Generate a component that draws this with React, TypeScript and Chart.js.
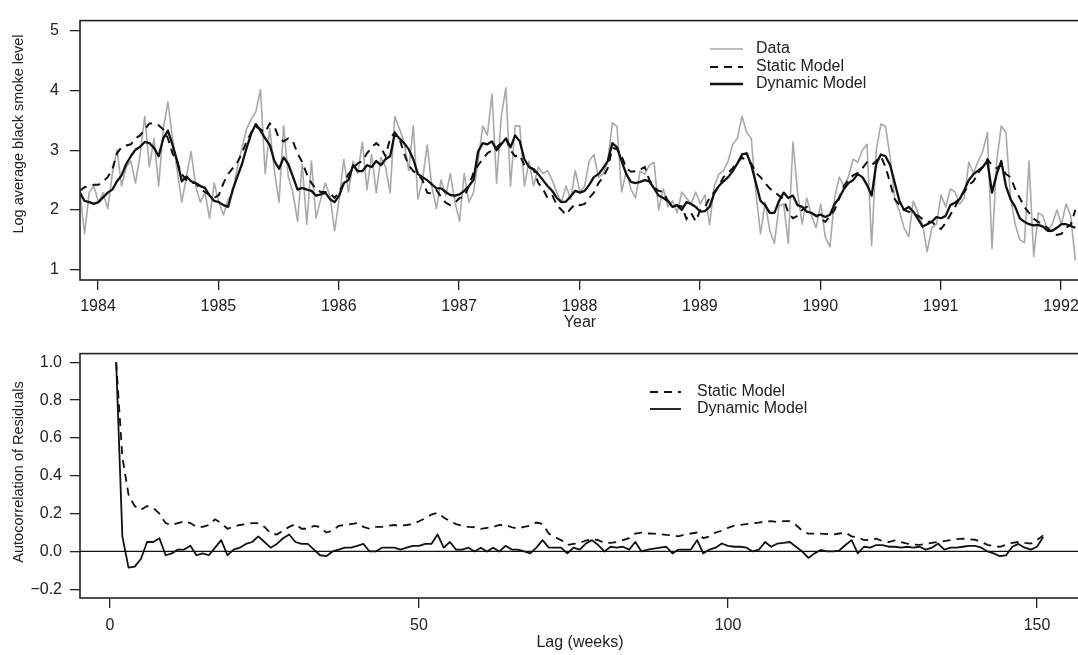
import { useEffect, useRef } from "react";
import { Chart, registerables } from "chart.js";

Chart.register(...registerables);

const FONT = "'Liberation Sans', Arial, Helvetica, sans-serif";

// ---------- Top panel: log black smoke series (biweekly samples) ----------
const START_YEAR = 1983.85;
const SAMPLES_PER_YEAR = 26;
const YEAR_TICKS = [1984, 1985, 1986, 1987, 1988, 1989, 1990, 1991, 1992];
const SMOKE_Y_TICKS = [1, 2, 3, 4, 5];

const SMOKE_DATA = [
  2.29, 1.6, 2.29, 2.4,
  2.13, 2.29, 2.02, 2.61, 3.01, 2.4, 2.72, 2.82, 2.45, 2.93, 3.57, 2.72, 3.2, 2.4, 3.36, 3.81, 3.2, 2.66, 2.13, 2.56, 2.98, 2.4, 2.13, 2.29, 1.86, 2.45,
  2.13, 1.92, 2.18, 2.29, 2.72, 3.04, 3.36, 3.52, 3.65, 4.02, 2.61, 3.36, 2.66, 2.13, 3.41, 2.56, 2.29, 1.81, 2.77, 1.76, 2.82, 1.86, 2.18, 2.45, 2.24, 1.65,
  2.18, 2.85, 2.3, 2.82, 2.61, 3.14, 2.34, 2.93, 2.29, 2.88, 2.72, 2.29, 3.57, 3.36, 3.14, 2.66, 3.41, 2.18, 2.5, 3.09, 2.4, 2.02, 2.5, 2.24, 2.61, 2.13,
  1.81, 2.61, 2.13, 2.29, 2.82, 3.41, 3.25, 3.94, 2.45, 3.57, 4.05, 2.4, 3.41, 3.41, 2.4, 2.82, 2.4, 2.72, 2.61, 2.66, 2.5, 2.29, 2.13, 2.4, 2.18, 2.66,
  2.3, 2.4, 2.82, 2.93, 2.55, 2.6, 2.82, 3.46, 3.4, 2.3, 2.65, 2.35, 2.2, 2.65, 2.6, 2.75, 2.8, 2.0, 2.35, 2.05, 2.15, 1.95, 2.3, 2.2, 2.1, 2.3,
  2.1, 2.25, 1.75, 2.4, 2.6, 2.66, 2.82, 3.1, 3.2, 3.57, 3.3, 3.2, 2.29, 1.6, 2.13, 1.65, 1.44, 2.07, 2.1, 1.44, 3.14, 2.3, 1.76, 2.2, 1.9, 1.7,
  2.1, 1.54, 1.38, 2.2, 2.55, 2.4, 2.56, 2.85, 2.8, 3.0, 3.1, 1.4, 3.0, 3.44, 3.4, 2.88, 2.18, 1.98, 1.7, 1.55, 2.15, 1.95, 1.75, 1.3, 1.7, 1.76,
  2.25, 2.05, 2.35, 2.3, 2.1, 2.2, 2.8, 2.62, 2.82, 2.98, 3.3, 1.35, 2.8, 3.41, 3.3, 2.2, 1.76, 1.5, 1.45, 2.82, 1.22, 1.95, 1.9, 1.65, 1.76, 2.0,
  1.76, 2.1, 1.9, 1.15,
];

const SMOKE_STATIC = [
  2.32, 2.38, 2.4, 2.42,
  2.42, 2.48, 2.55, 2.68, 2.95, 3.05, 3.08, 3.1, 3.2, 3.25, 3.35, 3.45, 3.45, 3.42, 3.35, 3.2, 2.95, 2.8, 2.6, 2.5, 2.45, 2.45, 2.35, 2.3, 2.25, 2.2,
  2.25, 2.45, 2.6, 2.7, 2.8, 2.95, 3.15, 3.3, 3.4, 3.35, 3.3, 3.45, 3.4, 3.2, 3.15, 3.2, 3.15, 2.95, 2.8, 2.6, 2.45, 2.35, 2.3, 2.3, 2.28, 2.2,
  2.3, 2.45, 2.6, 2.7, 2.78, 2.82, 2.95, 3.05, 3.12, 3.05, 2.9, 3.2, 3.3, 3.2, 2.95, 2.75, 2.65, 2.6, 2.5, 2.29, 2.27, 2.33, 2.22, 2.12, 2.08, 2.12,
  2.2, 2.22, 2.4, 2.62, 2.75, 2.85, 2.95, 3.0, 3.05, 3.12, 3.2, 3.0, 2.9, 2.92, 2.75, 2.72, 2.68, 2.45, 2.35, 2.2, 2.25, 2.08, 2.0, 1.92, 2.02, 2.1,
  2.08, 2.1, 2.2, 2.29, 2.45, 2.55, 2.7, 3.04, 3.02, 2.9, 2.7, 2.64, 2.65, 2.68, 2.72, 2.5, 2.38, 2.32, 2.3, 2.15, 2.1, 2.07, 2.06, 1.85, 1.95, 1.81,
  2.0, 2.05, 2.2, 2.3, 2.4, 2.55, 2.62, 2.7, 2.8, 2.88, 2.82, 2.78, 2.62, 2.55, 2.45, 2.36, 2.3, 2.24, 2.18, 1.95, 1.86, 1.9, 2.0, 2.05, 1.95, 1.9,
  1.85, 1.8, 1.9, 2.0, 2.2, 2.4, 2.5, 2.58, 2.62, 2.7, 2.8, 2.75, 2.82, 2.9, 2.72, 2.45, 2.18, 2.08, 2.0, 1.97, 1.95, 1.9, 1.85, 1.8, 1.8, 1.72,
  1.68, 1.78, 1.92, 2.05, 2.2, 2.3, 2.42, 2.48, 2.62, 2.72, 2.85, 2.75, 2.7, 2.75, 2.6, 2.55, 2.35, 2.2, 2.05, 1.95, 1.85, 1.8, 1.75, 1.7, 1.6, 1.58,
  1.6, 1.7, 1.75, 2.0,
];

const SMOKE_DYNAMIC = [
  2.29, 2.15, 2.13, 2.1,
  2.13, 2.21, 2.29, 2.34, 2.48, 2.58, 2.77, 2.9, 3.01, 3.06, 3.14, 3.12, 3.04, 2.9, 3.2, 3.33, 3.09, 2.82, 2.48, 2.56, 2.48, 2.45, 2.4, 2.37, 2.24, 2.15,
  2.13, 2.08, 2.05, 2.34, 2.56, 2.77, 3.04, 3.28, 3.44, 3.33, 3.2, 3.09, 2.82, 2.69, 2.88, 2.77, 2.56, 2.34, 2.37, 2.34, 2.32, 2.24, 2.26, 2.29, 2.18, 2.13,
  2.24, 2.45, 2.5, 2.75, 2.65, 2.65, 2.75, 2.72, 2.82, 2.75, 2.85, 2.9, 3.28, 3.2, 3.12, 3.02, 2.85, 2.6, 2.55, 2.5, 2.43, 2.36, 2.36, 2.3, 2.25, 2.24,
  2.26, 2.32, 2.4, 2.5, 2.98, 3.12, 3.1, 3.15, 3.0, 3.1, 3.2, 3.05, 3.25, 3.15, 2.85, 2.72, 2.68, 2.6, 2.5, 2.4, 2.32, 2.2, 2.13, 2.14, 2.23, 2.32,
  2.29, 2.32, 2.42, 2.55, 2.6, 2.7, 2.82, 3.12, 3.05, 2.82, 2.6, 2.47, 2.45, 2.47, 2.5, 2.48, 2.36, 2.24, 2.2, 2.15, 2.05, 2.08, 2.0, 2.13, 2.1, 2.05,
  1.97, 1.98, 2.05, 2.28, 2.4, 2.48, 2.55, 2.65, 2.78, 2.93, 2.95, 2.75, 2.45, 2.15, 2.08, 1.95, 1.95, 2.15, 2.29, 2.2, 2.24, 2.08, 2.05, 1.97, 1.95, 1.9,
  1.92, 1.88, 1.92, 2.1, 2.2, 2.35, 2.45, 2.5, 2.6, 2.55, 2.42, 2.24, 2.77, 2.93, 2.9, 2.75, 2.45, 2.15, 2.0, 2.05, 1.97, 1.85, 1.72, 1.76, 1.8, 1.88,
  1.86, 1.9, 2.08, 2.12, 2.18, 2.33, 2.5, 2.6, 2.66, 2.72, 2.82, 2.29, 2.6, 2.82, 2.4, 2.18, 2.05, 1.86, 1.8, 1.76, 1.74, 1.75, 1.72, 1.65, 1.65, 1.7,
  1.76, 1.76, 1.73, 1.7,
];

// ---------- Bottom panel: autocorrelation of residuals (lags 1..151) ----------
const FIRST_LAG = 1;
const LAG_TICKS = [0, 50, 100, 150];
const ACF_Y_TICKS = [-0.2, 0, 0.2, 0.4, 0.6, 0.8, 1.0];
const ZERO_LINE = 0;

const ACF_STATIC = [
  1.0, 0.5, 0.3, 0.24, 0.22, 0.24, 0.23, 0.2, 0.15, 0.14,
  0.15, 0.16, 0.15, 0.13, 0.13, 0.14, 0.17, 0.15, 0.12, 0.13,
  0.14, 0.145, 0.15, 0.15, 0.13, 0.095, 0.09, 0.11, 0.13, 0.145,
  0.12, 0.12, 0.135, 0.13, 0.1, 0.11, 0.135, 0.14, 0.145, 0.15,
  0.13, 0.12, 0.13, 0.13, 0.136, 0.14, 0.136, 0.14, 0.145, 0.16,
  0.175, 0.195, 0.205, 0.18, 0.16, 0.145, 0.136, 0.13, 0.128, 0.12,
  0.125, 0.13, 0.14, 0.14, 0.128, 0.12, 0.13, 0.136, 0.153, 0.145,
  0.095, 0.075, 0.06, 0.035, 0.04, 0.045, 0.058, 0.065, 0.06, 0.045,
  0.045, 0.05, 0.06, 0.07, 0.095, 0.1, 0.095, 0.094, 0.092, 0.088,
  0.085, 0.08, 0.09, 0.095, 0.1, 0.07, 0.08, 0.1, 0.11, 0.125,
  0.136, 0.14, 0.145, 0.148, 0.153, 0.158, 0.16, 0.155, 0.16, 0.16,
  0.14, 0.11, 0.094, 0.094, 0.094, 0.092, 0.09, 0.095, 0.1, 0.08,
  0.075, 0.06, 0.062, 0.068, 0.055, 0.05, 0.058, 0.05, 0.042, 0.036,
  0.035, 0.04, 0.045, 0.05, 0.055, 0.06, 0.065, 0.068, 0.065, 0.062,
  0.05, 0.035, 0.028, 0.025, 0.035, 0.045, 0.05, 0.045, 0.042, 0.06,
  0.085,
];

const ACF_DYNAMIC = [
  1.0, 0.08, -0.085, -0.08, -0.04, 0.05, 0.05, 0.07, -0.02, -0.01,
  0.01, 0.01, 0.03, -0.02, -0.01, -0.02, 0.02, 0.06, -0.02, 0.01,
  0.02, 0.04, 0.05, 0.08, 0.05, 0.02, 0.04, 0.07, 0.09, 0.05,
  0.04, 0.04, 0.01, -0.02, -0.025, 0.0, 0.01, 0.02, 0.02, 0.03,
  0.04, 0.0, 0.0, 0.02, 0.02, 0.02, 0.01, 0.02, 0.03, 0.03,
  0.04, 0.04, 0.09, 0.02, 0.05, 0.01, 0.01, 0.02, 0.0, 0.02,
  0.0, 0.02, 0.0, 0.03, 0.01, 0.01, 0.0, -0.01, 0.02, 0.06,
  0.02, 0.02, 0.02, -0.01, 0.02, 0.01, 0.042, 0.06, 0.034, 0.0,
  0.025, 0.02, 0.025, 0.01, 0.05, 0.0, 0.01, 0.015, 0.02, 0.025,
  -0.01, 0.01, 0.01, 0.01, 0.06, -0.01, 0.01, 0.02, 0.042, 0.03,
  0.025, 0.025, 0.02, 0.0, 0.01, 0.05, 0.025, 0.042, 0.045, 0.05,
  0.025, 0.0, -0.034, -0.01, 0.008, 0.0, 0.0, 0.005, 0.034, 0.06,
  -0.01, 0.025, 0.02, 0.034, 0.034, 0.025, 0.025, 0.02, 0.025, 0.02,
  0.025, 0.01, 0.02, 0.042, 0.01, 0.02, 0.02, 0.025, 0.03, 0.03,
  0.02, 0.0, -0.01, -0.025, -0.02, 0.025, 0.04, 0.02, 0.01, 0.025,
  0.077,
];

// ---------- layout (page pixels) ----------
const CANVAS_W = 1100;
const TOP_H = 336;
const BOT_H = 319;
const PLOT_LEFT = 80;
const PLOT_RIGHT_PAD = 10;
const H_FONT = 16;
const V_FONT = 14.5;

type LegendSpec = { datasetIndex: number; y: number };
type DecorSpec = {
  id: string;
  legend: LegendSpec[];
  legendX0: number;
  legendX1: number;
  legendTextX: number;
  yTitle: string;
  yTitleX: number;
  yTitleY: number;
  xTitle: string;
  xTitleX: number;
  xTitleY: number;
  zeroLine?: number;
};

function decorPlugin(spec: DecorSpec) {
  return {
    id: spec.id,
    beforeDatasetsDraw(chart: any) {
      if (spec.zeroLine === undefined) return;
      const { ctx, chartArea: a } = chart;
      const y = chart.scales.y.getPixelForValue(spec.zeroLine);
      ctx.save();
      ctx.beginPath();
      ctx.moveTo(a.left, y);
      ctx.lineTo(a.right, y);
      ctx.lineWidth = 1.3;
      ctx.strokeStyle = "#111";
      ctx.stroke();
      ctx.restore();
    },
    afterDraw(chart: any) {
      const { ctx, chartArea: a } = chart;
      ctx.save();
      // box
      ctx.strokeStyle = "#222";
      ctx.lineWidth = 1.6;
      ctx.strokeRect(a.left, a.top, a.right - a.left, a.bottom - a.top);
      // legend
      ctx.font = `${H_FONT}px ${FONT}`;
      ctx.textAlign = "left";
      ctx.textBaseline = "middle";
      spec.legend.forEach((it) => {
        const ds = chart.data.datasets[it.datasetIndex];
        ctx.beginPath();
        ctx.setLineDash(ds.borderDash || []);
        ctx.strokeStyle = ds.borderColor;
        ctx.lineWidth = ds.borderWidth;
        ctx.moveTo(spec.legendX0, it.y);
        ctx.lineTo(spec.legendX1, it.y);
        ctx.stroke();
        ctx.setLineDash([]);
        ctx.fillStyle = "#222";
        ctx.fillText(ds.label, spec.legendTextX, it.y);
      });
      // axis titles
      ctx.fillStyle = "#222";
      ctx.textAlign = "center";
      ctx.textBaseline = "middle";
      ctx.font = `${H_FONT}px ${FONT}`;
      ctx.fillText(spec.xTitle, spec.xTitleX, spec.xTitleY);
      ctx.save();
      ctx.translate(spec.yTitleX, spec.yTitleY);
      ctx.rotate(-Math.PI / 2);
      ctx.font = `${V_FONT}px ${FONT}`;
      ctx.fillText(spec.yTitle, 0, 0);
      ctx.restore();
      ctx.restore();
    },
  };
}

const tickGrid = {
  drawOnChartArea: false,
  drawTicks: true,
  tickLength: 10,
  color: "#222",
  lineWidth: 1.3,
};

export default function App() {
  const topRef = useRef<HTMLCanvasElement | null>(null);
  const botRef = useRef<HTMLCanvasElement | null>(null);

  useEffect(() => {
    if (!topRef.current || !botRef.current) return;

    // Top scale: 1984 at px 98, 120.375 px / year; y: 5 at 19, 1 at 269
    const pxPerYear = 120.375;
    const xMinTop = 1984 - (98 - PLOT_LEFT) / pxPerYear;
    const xMaxTop = xMinTop + (CANVAS_W - PLOT_RIGHT_PAD - PLOT_LEFT) / pxPerYear;
    const pxPerUnitTop = 62.5;
    const yMaxTop = 5 + (19 - 8) / pxPerUnitTop;
    const yMinTop = 1 - (280 - 269) / pxPerUnitTop;

    const toXY = (arr: number[]) =>
      arr.map((y, i) => ({ x: START_YEAR + i / SAMPLES_PER_YEAR, y }));

    const top = new Chart(topRef.current, {
      type: "line",
      data: {
        datasets: [
          {
            label: "Data",
            data: toXY(SMOKE_DATA),
            borderColor: "#a9a9a9",
            borderWidth: 1.6,
            pointRadius: 0,
            tension: 0,
            order: 3,
            borderJoinStyle: "round",
          },
          {
            label: "Static Model",
            data: toXY(SMOKE_STATIC),
            borderColor: "#111",
            borderWidth: 2,
            borderDash: [8, 6],
            pointRadius: 0,
            tension: 0,
            order: 2,
          },
          {
            label: "Dynamic Model",
            data: toXY(SMOKE_DYNAMIC),
            borderColor: "#111",
            borderWidth: 2.3,
            pointRadius: 0,
            tension: 0,
            order: 1,
            borderJoinStyle: "round",
          },
        ],
      },
      options: {
        animation: false,
        responsive: false,
        events: [],
        layout: { autoPadding: false, padding: { top: 8, right: PLOT_RIGHT_PAD, left: 0, bottom: 0 } },
        plugins: { legend: { display: false }, tooltip: { enabled: false } },
        scales: {
          x: {
            type: "linear",
            min: xMinTop,
            max: xMaxTop,
            afterFit: (s: any) => { s.height = TOP_H - 280; },
            afterBuildTicks: (s: any) => { s.ticks = YEAR_TICKS.map((v) => ({ value: v })); },
            grid: tickGrid,
            border: { display: false },
            ticks: {
              autoSkip: false,
              maxRotation: 0,
              padding: 7,
              color: "#222",
              font: { family: FONT, size: H_FONT },
              callback: (v: any) => String(v),
            },
          },
          y: {
            type: "linear",
            min: yMinTop,
            max: yMaxTop,
            afterFit: (s: any) => { s.width = PLOT_LEFT; },
            afterBuildTicks: (s: any) => { s.ticks = SMOKE_Y_TICKS.map((v) => ({ value: v })); },
            grid: tickGrid,
            border: { display: false },
            ticks: {
              autoSkip: false,
              padding: 11,
              color: "#222",
              font: { family: FONT, size: H_FONT },
              callback: (v: any) => String(v),
            },
          },
        },
      },
      plugins: [
        decorPlugin({
          id: "decorTop",
          legend: [
            { datasetIndex: 0, y: 49 },
            { datasetIndex: 1, y: 67 },
            { datasetIndex: 2, y: 84 },
          ],
          legendX0: 710,
          legendX1: 743,
          legendTextX: 756,
          yTitle: "Log average black smoke level",
          yTitleX: 19,
          yTitleY: 134,
          xTitle: "Year",
          xTitleX: 580,
          xTitleY: 323,
        }),
      ],
    } as any);

    // Bottom scale: lag 0 at px 110, 150 at 1037; y: 1.0 at 354, -0.2 at 589 (page)
    const pxPerLag = (1037 - 110) / 150;
    const xMinBot = 0 - (110 - PLOT_LEFT) / pxPerLag;
    const xMaxBot = xMinBot + (CANVAS_W - PLOT_RIGHT_PAD - PLOT_LEFT) / pxPerLag;
    const pxPerUnitBot = (589 - 354) / 1.2;
    const yMaxBot = 1.0 + (354 - 345) / pxPerUnitBot;
    const yMinBot = -0.2 - (598 - 589) / pxPerUnitBot;
    const botTop = TOP_H; // page offset of bottom canvas

    const lagXY = (arr: number[]) => arr.map((y, i) => ({ x: FIRST_LAG + i, y }));

    const bot = new Chart(botRef.current, {
      type: "line",
      data: {
        datasets: [
          {
            label: "Static Model",
            data: lagXY(ACF_STATIC),
            borderColor: "#111",
            borderWidth: 1.8,
            borderDash: [8, 6],
            pointRadius: 0,
            tension: 0,
            order: 2,
          },
          {
            label: "Dynamic Model",
            data: lagXY(ACF_DYNAMIC),
            borderColor: "#111",
            borderWidth: 1.8,
            pointRadius: 0,
            tension: 0,
            order: 1,
            borderJoinStyle: "round",
          },
        ],
      },
      options: {
        animation: false,
        responsive: false,
        events: [],
        layout: { autoPadding: false, padding: { top: 345 - botTop, right: PLOT_RIGHT_PAD, left: 0, bottom: 0 } },
        plugins: { legend: { display: false }, tooltip: { enabled: false } },
        scales: {
          x: {
            type: "linear",
            min: xMinBot,
            max: xMaxBot,
            afterFit: (s: any) => { s.height = BOT_H - (598 - botTop); },
            afterBuildTicks: (s: any) => { s.ticks = LAG_TICKS.map((v) => ({ value: v })); },
            grid: tickGrid,
            border: { display: false },
            ticks: {
              autoSkip: false,
              maxRotation: 0,
              padding: 8,
              color: "#222",
              font: { family: FONT, size: H_FONT },
              callback: (v: any) => String(v),
            },
          },
          y: {
            type: "linear",
            min: yMinBot,
            max: yMaxBot,
            afterFit: (s: any) => { s.width = PLOT_LEFT; },
            afterBuildTicks: (s: any) => { s.ticks = ACF_Y_TICKS.map((v) => ({ value: v })); },
            grid: tickGrid,
            border: { display: false },
            ticks: {
              autoSkip: false,
              padding: 8,
              color: "#222",
              font: { family: FONT, size: H_FONT },
              callback: (v: any) => {
                const n = Number(v);
                const s = Math.abs(n).toFixed(1);
                return n < -1e-9 ? "\u2212" + s : s;
              },
            },
          },
        },
      },
      plugins: [
        decorPlugin({
          id: "decorBot",
          legend: [
            { datasetIndex: 0, y: 392 - botTop },
            { datasetIndex: 1, y: 409 - botTop },
          ],
          legendX0: 650,
          legendX1: 681,
          legendTextX: 697,
          yTitle: "Autocorrelation of Residuals",
          yTitleX: 19,
          yTitleY: 472 - botTop,
          xTitle: "Lag (weeks)",
          xTitleX: 580,
          xTitleY: 643 - botTop,
          zeroLine: ZERO_LINE,
        }),
      ],
    } as any);

    return () => {
      top.destroy();
      bot.destroy();
    };
  }, []);

  return (
    <div
      style={{
        position: "absolute",
        left: 0,
        top: 0,
        width: 1078,
        height: 655,
        overflow: "hidden",
        background: "#fff",
      }}
    >
      <canvas
        ref={topRef}
        width={CANVAS_W}
        height={TOP_H}
        style={{ position: "absolute", left: 0, top: 0, width: CANVAS_W, height: TOP_H }}
      />
      <canvas
        ref={botRef}
        width={CANVAS_W}
        height={BOT_H}
        style={{ position: "absolute", left: 0, top: TOP_H, width: CANVAS_W, height: BOT_H }}
      />
    </div>
  );
}
